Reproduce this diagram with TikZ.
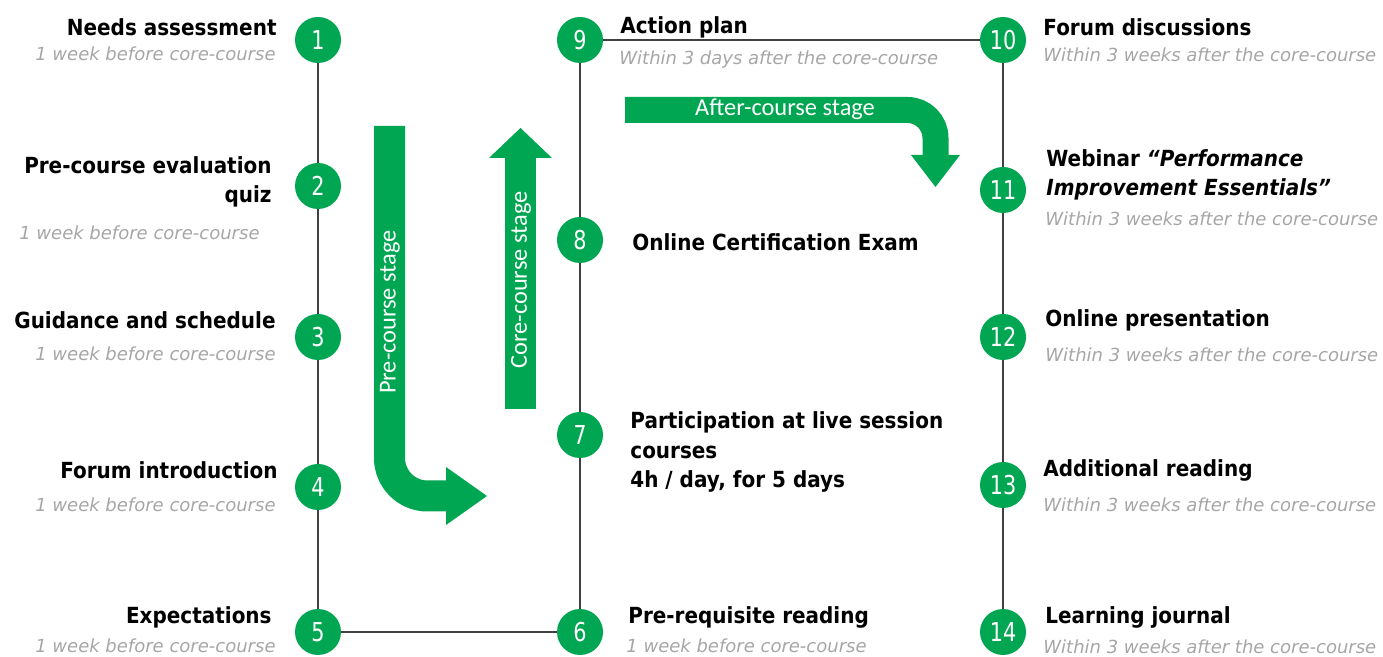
\documentclass[tikz,border=0pt]{standalone}
\usepackage{fontspec}
\setmainfont{DejaVu Sans}
\newfontfamily\titlefont[FakeStretch=0.9,Ligatures=TeX]{DejaVu Sans}
\newfontfamily\numfont[FakeStretch=0.8]{DejaVu Sans}
\newfontfamily\stagefont{Carlito}
\definecolor{stagegreen}{HTML}{00A651}
\definecolor{subgrey}{HTML}{A6A6A6}
\definecolor{linegrey}{HTML}{404040}
\tikzset{
  num/.style={circle,fill=stagegreen,minimum size=23pt,inner sep=0pt,text=white,font=\numfont\fontsize{13}{13}\selectfont},
  ttl/.style={font=\titlefont\bfseries\fontsize{11.1}{14.8}\selectfont,inner sep=0pt},
  sub/.style={font=\itshape\fontsize{9}{11}\selectfont,text=subgrey,inner sep=0pt},
  conn/.style={draw=linegrey,line width=1pt},
  stagebar/.style={draw=stagegreen,line cap=butt},
  stagetext/.style={text=white,font=\stagefont\fontsize{12.2}{12.2}\selectfont,inner sep=0pt}
}
\begin{document}
\begin{tikzpicture}[x=0.5pt,y=-0.5pt]
\useasboundingbox (0,0) rectangle (1383,657);
% milestones
\foreach \n/\x/\y in {1/318/40,2/318/186,3/318/337,4/318/487,5/318/632,
  6/580/632,7/580/435,8/580/240,9/580/40,
  10/1003/40,11/1003/190,12/1003/337,13/1003/485,14/1003/632}
  \node[num] (c\n) at (\x,\y) {\n};
\foreach \a/\b in {1/2,2/3,3/4,4/5,5/6,6/7,7/8,8/9,9/10,10/11,11/12,12/13,13/14}
  \draw[conn] (c\a) -- (c\b);
% pre-course labels
\node[ttl,anchor=east] (t1) at (277,27) {Needs assessment};
\node[sub,anchor=east] (s1) at (276,54) {1 week before core-course};
\node[ttl,anchor=east,align=right] (t2) at (272,182) {Pre-course evaluation\\quiz};
\node[sub,anchor=east] (s2) at (260,233) {1 week before core-course};
\node[ttl,anchor=east] (t3) at (276,320) {Guidance and schedule};
\node[sub,anchor=east] (s3) at (276,354) {1 week before core-course};
\node[ttl,anchor=east] (t4) at (278,470) {Forum introduction};
\node[sub,anchor=east] (s4) at (276,505) {1 week before core-course};
\node[ttl,anchor=east] (t5) at (272,617) {Expectations};
\node[sub,anchor=east] (s5) at (276,646) {1 week before core-course};
% core-course labels
\node[ttl,anchor=west] (t6) at (628,617) {Pre-requisite reading};
\node[sub,anchor=west] (s6) at (626,646) {1 week before core-course};
\node[ttl,anchor=west,align=left] (t7) at (630,452) {Participation at live session\\courses\\4h / day, for 5 days};
\node[ttl,anchor=west] (t8) at (632,242) {Online Certification Exam};
\node[ttl,anchor=west] (t9) at (620,27) {Action plan};
\node[sub,anchor=west] (s9) at (619,60) {Within 3 days after the core-course};
% after-course labels
\node[ttl,anchor=west] (t10) at (1043,27) {Forum discussions};
\node[sub,anchor=west] (s10) at (1043,55) {Within 3 weeks after the core-course};
\node[ttl,anchor=west,align=left] (t11) at (1046,175) {Webinar \textit{“Performance}\\\textit{Improvement Essentials”}};
\node[sub,anchor=west] (s11) at (1045,219) {Within 3 weeks after the core-course};
\node[ttl,anchor=west] (t12) at (1045,320) {Online presentation};
\node[sub,anchor=west] (s12) at (1045,355) {Within 3 weeks after the core-course};
\node[ttl,anchor=west] (t13) at (1043,470) {Additional reading};
\node[sub,anchor=west] (s13) at (1043,505) {Within 3 weeks after the core-course};
\node[ttl,anchor=west] (t14) at (1045,617) {Learning journal};
\node[sub,anchor=west] (s14) at (1043,647) {Within 3 weeks after the core-course};
% stage arrows
\draw[stagebar,line width=15.5pt,rounded corners=19pt] (389.5,126) -- (389.5,496) -- (447,496);
\fill[stagegreen] (446,467) -- (487,496) -- (446,525) -- cycle;
\node[stagetext,rotate=90] (pre) at (390,312) {Pre-course stage};
\draw[stagebar,line width=15.5pt] (520.5,409) -- (520.5,157);
\fill[stagegreen] (489,158) -- (520.5,128) -- (552,158) -- cycle;
\node[stagetext,rotate=90] (core) at (521,280) {Core-course stage};
\draw[stagebar,line width=13pt,rounded corners=14pt] (625,110) -- (935.5,110) -- (935.5,156);
\fill[stagegreen] (911,155) -- (960,155) -- (935.5,187) -- cycle;
\node[stagetext] (after) at (785,109) {After-course stage};
\end{tikzpicture}
\end{document}
